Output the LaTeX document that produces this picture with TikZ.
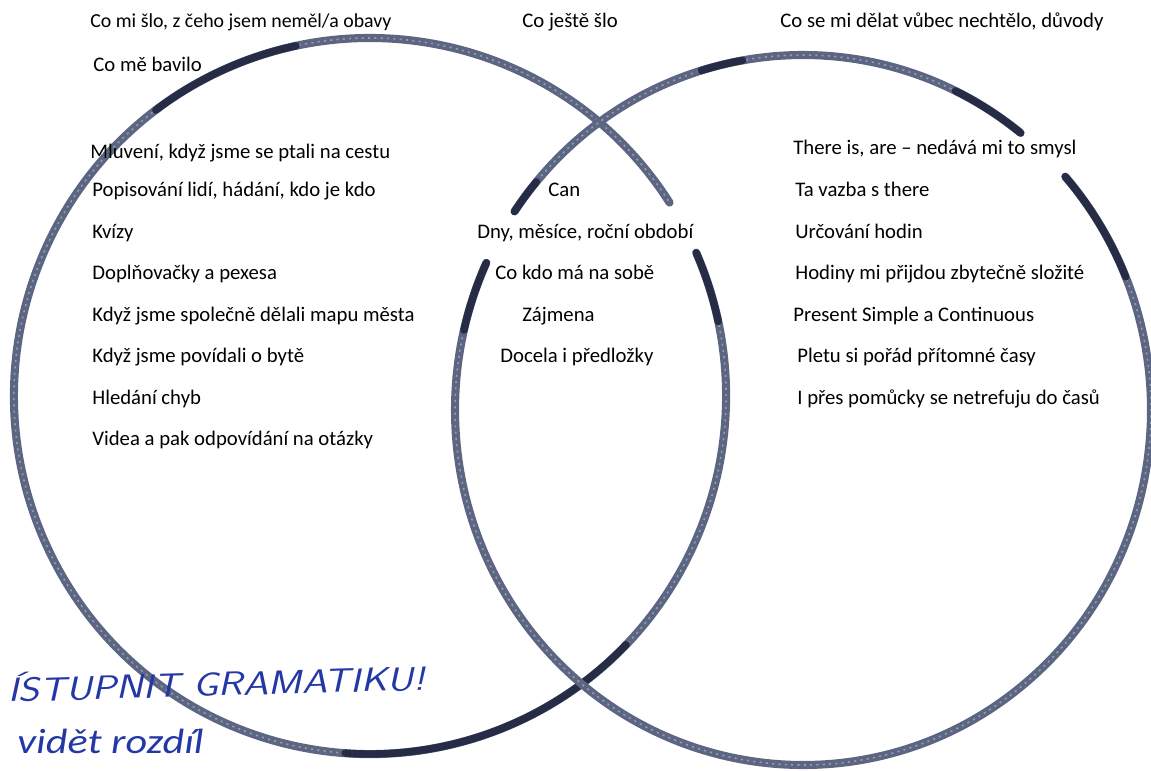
\documentclass[tikz,border=0pt]{standalone}
\usepackage{fontspec}
\setmainfont{Carlito}
\definecolor{crayon}{RGB}{92,102,130}
\definecolor{crayondark}{RGB}{38,44,70}
\definecolor{ink}{RGB}{35,55,165}
\tikzset{
  lbl/.style={anchor=base west, inner sep=0pt, font=\fontsize{11.8}{13}\selectfont},
  circ/.style={draw=crayon, line width=4.6pt, line cap=round},
  circdark/.style={draw=crayondark, line width=4.2pt, line cap=round},
  grain/.style={draw=white, line width=0.9pt, opacity=0.35, dash pattern=on 1.2pt off 2.4pt},
  hand/.style={anchor=base west, inner sep=0pt, text=ink}
}
\begin{document}
\begin{tikzpicture}[x=0.02cm, y=-0.02cm]
\useasboundingbox (0,0) rectangle (1151,770);
% left circle (gap on its right side)
\draw[circ] (370,396) ++(-23.6:356 and 358) arc[start angle=-23.6, end angle=327.3, x radius=356, y radius=358];
\draw[grain] (370,396) ++(-23.6:356 and 358) arc[start angle=-23.6, end angle=327.3, x radius=356, y radius=358];
\draw[circdark] (370,396) ++(233:356 and 358) arc[start angle=233, end angle=258, x radius=356, y radius=358];
\draw[circdark] (370,396) ++(44:356 and 358) arc[start angle=44, end angle=94, x radius=356, y radius=358];
\draw[circdark] (370,396) ++(-23.6:356 and 358) arc[start angle=-23.6, end angle=-12, x radius=356, y radius=358];
% right circle (two gaps)
\draw[circ] (803,410) ++(214:348 and 355) arc[start angle=214, end angle=308.7, x radius=348, y radius=355];
\draw[circ] (803,410) ++(318.9:348 and 355) arc[start angle=318.9, end angle=564.5, x radius=348, y radius=355];
\draw[grain] (803,410) ++(214:348 and 355) arc[start angle=214, end angle=308.7, x radius=348, y radius=355];
\draw[grain] (803,410) ++(318.9:348 and 355) arc[start angle=318.9, end angle=564.5, x radius=348, y radius=355];
\draw[circdark] (803,410) ++(318.9:348 and 355) arc[start angle=318.9, end angle=338, x radius=348, y radius=355];
\draw[circdark] (803,410) ++(296:348 and 355) arc[start angle=296, end angle=308.7, x radius=348, y radius=355];
\draw[circdark] (803,410) ++(193:348 and 355) arc[start angle=193, end angle=204.5, x radius=348, y radius=355];
\draw[circdark] (803,410) ++(214:348 and 355) arc[start angle=214, end angle=220, x radius=348, y radius=355];
\draw[circdark] (803,410) ++(253:348 and 355) arc[start angle=253, end angle=260, x radius=348, y radius=355];
% headings
\node[lbl, font=\fontsize{11.3}{13}\selectfont] (h1) at (90,28) {Co mi šlo, z čeho jsem neměl/a obavy};
\node[lbl] (h2) at (93,72) {Co mě bavilo};
\node[lbl] (h3) at (522,28) {Co ještě šlo};
\node[lbl] (h4) at (780,28) {Co se mi dělat vůbec nechtělo, důvody};
% left list
\node[lbl] (l1) at (90,158) {Mluvení, když jsme se ptali na cestu};
\node[lbl] (l2) at (92,196) {Popisování lidí, hádání, kdo je kdo};
\node[lbl] (l3) at (92,238) {Kvízy};
\node[lbl] (l4) at (92,279) {Doplňovačky a pexesa};
\node[lbl] (l5) at (92,321) {Když jsme společně dělali mapu města};
\node[lbl] (l6) at (92,362) {Když jsme povídali o bytě};
\node[lbl] (l7) at (92,404) {Hledání chyb};
\node[lbl] (l8) at (92,445) {Videa a pak odpovídání na otázky};
% middle
\node[lbl] (m1) at (548,196) {Can};
\node[lbl] (m2) at (477,238) {Dny, měsíce, roční období};
\node[lbl] (m3) at (495,279) {Co kdo má na sobě};
\node[lbl] (m4) at (522,321) {Zájmena};
\node[lbl] (m5) at (500,362) {Docela i předložky};
% right list
\node[lbl] (r1) at (793,154) {There is, are – nedává mi to smysl};
\node[lbl] (r2) at (795,196) {Ta vazba s there};
\node[lbl] (r3) at (795,238) {Určování hodin};
\node[lbl] (r4) at (795,279) {Hodiny mi přijdou zbytečně složité};
\node[lbl] (r5) at (793,321) {Present Simple a Continuous};
\node[lbl] (r6) at (797,362) {Pletu si pořád přítomné časy};
\node[lbl] (r7) at (797,404) {I přes pomůcky se netrefuju do časů};
% handwritten note
\node[hand, font=\sffamily\slshape\fontsize{19}{24}\selectfont, xscale=1.22, rotate=2] (w1) at (8,702) {ÍSTUPNIT GRAMATIKU!};
\node[hand, font=\itshape\fontsize{20}{24}\selectfont, xscale=1.2] (w2) at (17,753) {vidět rozdíl};
\end{tikzpicture}
\end{document}
